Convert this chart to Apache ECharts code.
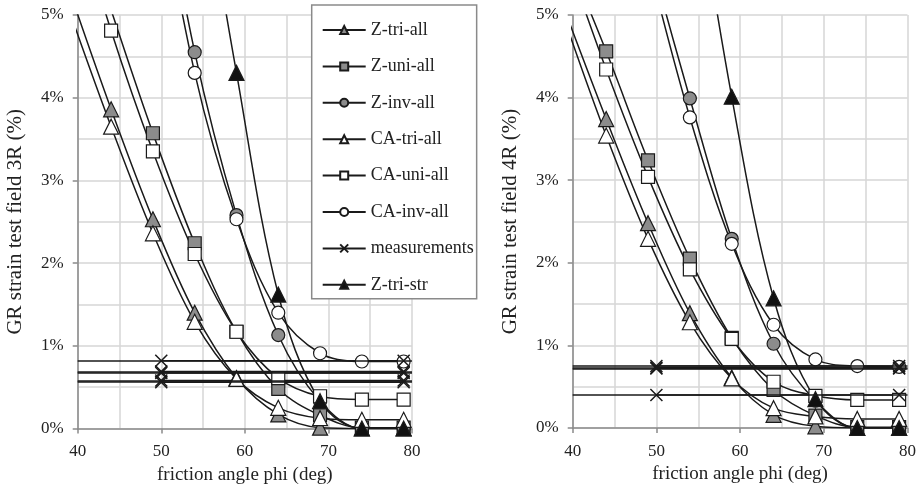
<!DOCTYPE html>
<html><head><meta charset="utf-8">
<script src="https://cdn.jsdelivr.net/npm/echarts@6/dist/echarts.min.js"></script>
<style>html,body{margin:0;padding:0;background:#fff}#c{width:919px;height:490px}</style>
</head><body><div id="c"></div>
<script>
// friction angle values (deg)
const phi = [39, 44, 49, 54, 59, 64, 69, 74, 79];
// field 3R (%)
const zTriAll3  = [5.30, 3.86, 2.53, 1.40, 0.61, 0.17, 0.01, 0.00, 0.00];
const zUniAll3  = [6.60, 5.06, 3.57, 2.24, 1.17, 0.48, 0.16, 0.01, 0.01];
const zInvAll3  = [null, null, 7.30, 4.55, 2.58, 1.13, 0.33, 0.00, 0.00];
const caTriAll3 = [5.05, 3.65, 2.36, 1.29, 0.60, 0.25, 0.125, 0.105, 0.105];
const caUniAll3 = [6.50, 4.81, 3.35, 2.11, 1.17, 0.61, 0.39, 0.35, 0.35];
const caInvAll3 = [null, null, 7.00, 4.30, 2.53, 1.40, 0.91, 0.81, 0.81];
const zTriStr3  = [null, null, null, 7.30, 4.30, 1.62, 0.33, 0.00, 0.00];
// field 4R (%)
const zTriAll4  = [5.07, 3.74, 2.48, 1.39, 0.61, 0.16, 0.02, 0.00, 0.00];
const zUniAll4  = [5.80, 4.56, 3.24, 2.05, 1.09, 0.46, 0.15, 0.01, 0.01];
const zInvAll4  = [null, null, 5.80, 3.99, 2.29, 1.02, 0.33, 0.00, 0.00];
const caTriAll4 = [4.95, 3.54, 2.29, 1.28, 0.60, 0.24, 0.14, 0.11, 0.11];
const caUniAll4 = [5.77, 4.34, 3.04, 1.92, 1.08, 0.56, 0.39, 0.34, 0.34];
const caInvAll4 = [null, null, 5.66, 3.76, 2.23, 1.25, 0.83, 0.75, 0.74];
const zTriStr4  = [null, null, null, 7.10, 4.01, 1.57, 0.35, 0.00, 0.00];
// measurements: marker positions and measured values (%)
const measPhi = [50, 79];
const meas3 = [0.82, 0.69, 0.67, 0.58, 0.56];
const meas4 = [0.75, 0.73, 0.72, 0.40];
// axes
const xMin = 40, xMax = 80, xStep = 10;
const yMin = 0, yMax = 5, yStep = 1;
const xTitle = 'friction angle phi (deg)';
const yTitles = ['GR strain test field 3R (%)', 'GR strain test field 4R (%)'];

const FONT = '"Liberation Serif", "Times New Roman", serif';
const LINE = '#1a1a1a';
const GRIDC = '#d6d6d6';
const AXC = '#8a8a8a';
const XPATH = 'path://M0,0L10,10M10,0L0,10';

function toPairs(ys) { return phi.map((p, i) => [p, ys[i]]); }

const styles = {
  'Z-tri-all':  {symbol: 'triangle', size: 15, fill: '#8c8c8c'},
  'Z-uni-all':  {symbol: 'rect', size: 13, fill: '#8c8c8c'},
  'Z-inv-all':  {symbol: 'circle', size: 13, fill: '#8c8c8c'},
  'CA-tri-all': {symbol: 'triangle', size: 15, fill: '#ffffff'},
  'CA-uni-all': {symbol: 'rect', size: 13, fill: '#ffffff'},
  'CA-inv-all': {symbol: 'circle', size: 13, fill: '#ffffff'},
  'Z-tri-str':  {symbol: 'triangle', size: 15, fill: '#111111'}
};

function curve(name, ys, g) {
  const s = styles[name];
  return {
    name, type: 'line', xAxisIndex: g, yAxisIndex: g,
    data: toPairs(ys), smooth: 0.35, clip: true,
    symbol: s.symbol, symbolSize: s.size, showAllSymbol: true,
    lineStyle: {color: LINE, width: 1.5},
    itemStyle: {color: s.fill, borderColor: LINE, borderWidth: 1.2},
    emphasis: {disabled: true}, z: 3
  };
}
function measure(v, g) {
  return {
    name: 'measurements', type: 'line', xAxisIndex: g, yAxisIndex: g,
    data: measPhi.map(p => [p, v]), clip: true,
    symbol: XPATH, symbolSize: 12,
    lineStyle: {color: LINE, width: 1.5},
    itemStyle: {color: 'rgba(0,0,0,0)', borderColor: LINE, borderWidth: 1.5},
    markLine: {silent: true, symbol: 'none', label: {show: false},
      lineStyle: {color: LINE, width: 1.5, type: 'solid'}, data: [{yAxis: v}]},
    emphasis: {disabled: true}, z: 3
  };
}

function seriesFor(g, d) {
  const out = [
    curve('Z-tri-all', d[0], g), curve('Z-uni-all', d[1], g), curve('Z-inv-all', d[2], g),
    curve('CA-tri-all', d[3], g), curve('CA-uni-all', d[4], g), curve('CA-inv-all', d[5], g)
  ];
  d[6].forEach(v => out.push(measure(v, g)));
  out.push(curve('Z-tri-str', d[7], g));
  return out;
}

const axisLabelStyle = {color: '#222', fontFamily: FONT, fontSize: 17};
function xAx(g) {
  return {
    type: 'value', gridIndex: g, min: xMin, max: xMax, interval: xStep,
    name: xTitle, nameLocation: 'middle', nameGap: 33,
    nameTextStyle: {color: '#222', fontFamily: FONT, fontSize: 19},
    axisLine: {show: true, onZero: false, lineStyle: {color: AXC, width: 1.5}},
    axisTick: {show: true, length: 5, lineStyle: {color: AXC, width: 1.5}},
    axisLabel: Object.assign({margin: 15}, axisLabelStyle),
    splitLine: {show: true, lineStyle: {color: GRIDC, width: 1.5}},
    minorTick: {show: false, splitNumber: 2},
    minorSplitLine: {show: true, lineStyle: {color: GRIDC, width: 1.5}}
  };
}
function yAx(g) {
  return {
    type: 'value', gridIndex: g, min: yMin, max: yMax, interval: yStep,
    name: yTitles[g], nameLocation: 'middle', nameGap: 52, nameRotate: 90,
    nameTextStyle: {color: '#222', fontFamily: FONT, fontSize: 21},
    axisLine: {show: true, lineStyle: {color: AXC, width: 1.5}},
    axisTick: {show: true, length: 5, lineStyle: {color: AXC, width: 1.5}},
    axisLabel: Object.assign({margin: 14, formatter: '{value}%'}, axisLabelStyle),
    splitLine: {show: true, lineStyle: {color: GRIDC, width: 1.5}},
    minorTick: {show: false, splitNumber: 2},
    minorSplitLine: {show: true, lineStyle: {color: GRIDC, width: 1.5}}
  };
}

const chart = echarts.init(document.getElementById('c'), null, {renderer: 'canvas'});
chart.setOption({
  backgroundColor: '#fff',
  animation: false,
  grid: [
    {left: 77.7, right: 507, top: 15, bottom: 61.5},
    {left: 572.7, right: 9.5, top: 15, bottom: 62}
  ],
  xAxis: [xAx(0), xAx(1)],
  yAxis: [yAx(0), yAx(1)],
  legend: {
    orient: 'vertical', left: 311.7, top: 5,
    padding: [16, 3, 5, 10],
    backgroundColor: '#fff', borderColor: '#8a8a8a', borderWidth: 1.5, borderRadius: 0,
    itemWidth: 43, itemHeight: 10, itemGap: 18.4,
    textStyle: {color: '#222', fontFamily: FONT, fontSize: 18, lineHeight: 10},
    data: ['Z-tri-all', 'Z-uni-all', 'Z-inv-all', 'CA-tri-all', 'CA-uni-all', 'CA-inv-all', 'measurements', 'Z-tri-str'],
    selectedMode: false, z: 10
  },
  series: [].concat(
    seriesFor(0, [zTriAll3, zUniAll3, zInvAll3, caTriAll3, caUniAll3, caInvAll3, meas3, zTriStr3]),
    seriesFor(1, [zTriAll4, zUniAll4, zInvAll4, caTriAll4, caUniAll4, caInvAll4, meas4, zTriStr4])
  )
});
</script></body></html>
